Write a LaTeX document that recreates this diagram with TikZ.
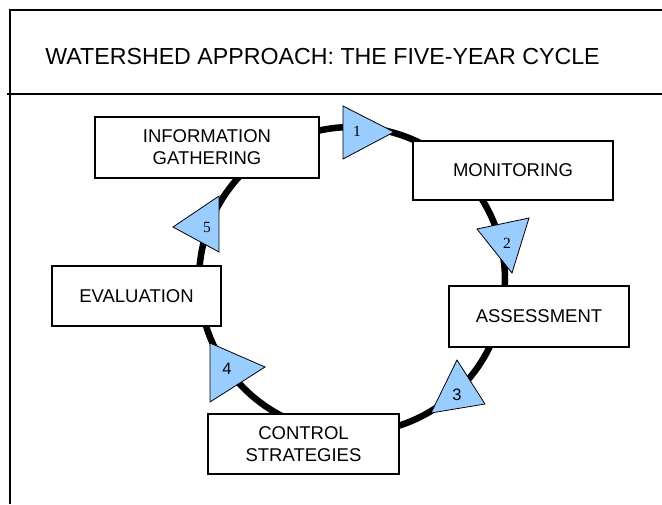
\documentclass[tikz,border=0pt]{standalone}
\usepackage{fontspec}
\setmainfont{Liberation Sans}
\newfontfamily\numserif{Liberation Serif}
\begin{document}
\begin{tikzpicture}[x=1pt,y=-1pt,
  frameline/.style={line width=2pt},
  ring/.style={line width=6.5pt},
  stage/.style={draw, line width=1.8pt, fill=white, inner sep=0pt, align=center,
    font=\fontsize{18.5}{22}\selectfont},
  tri/.style={draw, line width=0.8pt, fill=triblue, line join=miter},
  numlab/.style={inner sep=0pt, font=\numserif\fontsize{15.5}{15}\selectfont},
  numlabsans/.style={inner sep=0pt, font=\fontsize{16.5}{16}\selectfont}]
\definecolor{triblue}{RGB}{153,204,255}
\useasboundingbox (0,0) rectangle (662,504);
% frame
\draw[frameline] (10,504) -- (10,10) -- (662,10);
\draw[frameline] (7,94) -- (662,94);
\node[font=\fontsize{23.2}{26}\selectfont, inner sep=0pt] (title) at (322.5,57) {WATERSHED APPROACH: THE FIVE-YEAR CYCLE};
% cycle ring
\coordinate (c) at (352,280);
\draw[ring] (c) circle[radius=153];
% stages
\node[stage, minimum width=224pt, minimum height=61pt] (info) at (207,147.5) {INFORMATION\\GATHERING};
\node[stage, minimum width=200pt, minimum height=59pt] (mon) at (513,170.5) {MONITORING};
\node[stage, minimum width=180pt, minimum height=61pt] (ass) at (539,316.5) {ASSESSMENT};
\node[stage, minimum width=169pt, minimum height=60pt] (eval) at (136.5,296) {EVALUATION};
\node[stage, minimum width=191pt, minimum height=60pt] (ctrl) at (303.5,444) {CONTROL\\STRATEGIES};
% triangles
\draw[tri] (343,106) -- (343,159) -- (394,132) -- cycle;
\node[numlab] (n1) at (357,131) {1};
\draw[tri] (477,229) -- (529,218) -- (512,273) -- cycle;
\node[numlab] (n2) at (507,243) {2};
\draw[tri] (457,360) -- (485,404) -- (431,413) -- cycle;
\node[numlabsans] (n3) at (457,395) {3};
\draw[tri] (210,343) -- (210,402) -- (265,367) -- cycle;
\node[numlabsans] (n4) at (227,369) {4};
\draw[tri] (219,196) -- (219,252) -- (173,227) -- cycle;
\node[numlab] (n5) at (207,227) {5};
\end{tikzpicture}
\end{document}
